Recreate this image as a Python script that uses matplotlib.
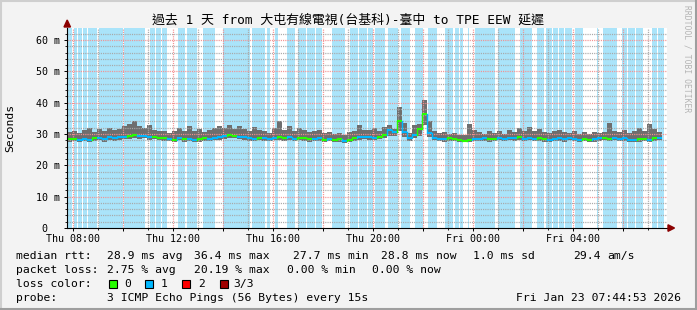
import numpy as np
import matplotlib
matplotlib.use('Agg')
from matplotlib import pyplot as plt
from matplotlib.lines import Line2D
from matplotlib.patches import Rectangle, Polygon

W, H = 697, 310
MONO = ['DejaVu Sans Mono', 'Noto Sans CJK TC']
plt.rcParams['font.family'] = MONO
plt.rcParams['lines.scale_dashes'] = False

# --- data (ms, 12 min bins starting Thu 07:45, hours counted from Thu 00:00) ---
bin_start = 7.75
bin_width = 0.2

median = [28.3, 28.5, 28.2, 28.4, 28.0, 28.6, 28.8, 28.3, 28.9, 28.6,
          29.0, 29.2, 29.4, 29.6, 29.3, 29.5, 28.9, 29.2, 28.8, 28.6,
          28.4, 28.2, 28.7, 28.3, 28.5, 28.1, 28.3, 28.6, 28.4, 28.8,
          28.9, 29.3, 29.6, 29.4, 29.1, 28.9, 28.7, 28.5, 28.8, 28.6,
          28.4, 28.7, 28.9, 28.6, 29.0, 28.5, 28.8, 28.6, 28.3, 28.5,
          28.7, 28.2, 28.4, 28.1, 28.3, 27.9, 28.2, 28.6, 28.9, 29.1,
          28.9, 28.7, 29.1, 29.6, 31.2, 30.5, 34.0, 30.5, 28.6, 29.8,
          31.5, 36.4, 30.2, 28.8, 28.5, 28.3, 28.6, 28.4, 28.0, 27.9,
          28.2, 28.5, 28.4, 28.6, 28.3, 28.5, 28.7, 28.4, 28.8, 28.6,
          28.9, 28.5, 28.7, 28.4, 28.6, 28.3, 28.1, 28.4, 28.6, 28.3,
          28.7, 28.5, 28.2, 28.4, 28.0, 28.3, 28.6, 28.8, 28.5, 28.7,
          28.4, 28.6, 28.2, 28.0, 28.3, 28.5, 28.2, 28.6, 28.8]

ping_max = [30.6, 31.0, 30.3, 31.2, 31.8, 30.6, 31.6, 30.9, 32.0, 31.2,
            31.5, 32.4, 33.2, 34.2, 32.5, 31.8, 33.0, 31.2, 30.8, 31.0,
            30.4, 31.0, 32.0, 30.8, 32.4, 31.0, 31.6, 30.6, 31.2, 32.0,
            32.6, 32.0, 33.0, 31.6, 32.4, 31.5, 30.9, 32.2, 31.2, 30.8,
            30.4, 31.8, 34.2, 31.4, 32.6, 30.9, 32.0, 31.2, 30.5, 31.0,
            31.4, 30.3, 30.7, 30.1, 30.4, 29.8, 30.5, 31.0, 32.8, 31.4,
            31.2, 31.8, 30.8, 32.2, 33.0, 31.6, 38.5, 33.5, 30.4, 33.0,
            33.2, 41.0, 34.0, 31.0, 30.4, 30.6, 30.0, 30.3, 29.8, 29.6,
            33.2, 31.2, 30.6, 30.1, 31.0, 30.3, 30.8, 30.0, 31.2, 30.5,
            32.0, 31.0, 32.2, 30.9, 31.6, 30.5, 30.2, 31.0, 31.4, 30.7,
            30.3, 30.9, 30.1, 30.5, 30.0, 30.7, 30.3, 30.5, 33.4, 30.9,
            30.7, 31.2, 30.3, 30.9, 31.8, 31.0, 33.2, 31.6, 30.5]

ping_min = [27.6, 27.8, 27.5, 27.7, 27.4, 27.9, 28.0, 27.6, 28.1, 27.8,
            28.2, 28.4, 28.5, 28.7, 28.5, 28.6, 28.1, 28.3, 28.0, 27.9,
            27.7, 27.5, 28.0, 27.6, 27.8, 27.4, 27.6, 27.9, 27.7, 28.0,
            28.1, 28.5, 28.7, 28.6, 28.3, 28.1, 27.9, 27.8, 28.0, 27.9,
            27.7, 28.0, 28.1, 27.9, 28.2, 27.8, 28.0, 27.9, 27.6, 27.8,
            27.9, 27.5, 27.7, 27.4, 27.6, 27.2, 27.5, 27.9, 28.1, 28.3,
            28.1, 28.0, 28.3, 28.8, 29.5, 29.4, 31.0, 29.0, 27.8, 28.6,
            29.5, 33.0, 28.9, 28.0, 27.8, 27.6, 27.9, 27.7, 27.4, 27.3,
            27.5, 27.8, 27.7, 27.9, 27.6, 27.8, 28.0, 27.7, 28.1, 27.9,
            28.1, 27.8, 28.0, 27.7, 27.9, 27.6, 27.4, 27.7, 27.9, 27.6,
            28.0, 27.8, 27.5, 27.7, 27.3, 27.6, 27.9, 28.1, 27.8, 28.0,
            27.7, 27.9, 27.5, 27.3, 27.6, 27.8, 27.5, 27.9, 28.1]

# 0 = no loss (green), 1 = one of three lost (blue)
median_loss = [0, 0, 1, 1, 1, 0, 1, 1, 1, 1,
               1, 1, 0, 0, 1, 1, 1, 0, 0, 0,
               1, 0, 1, 0, 1, 1, 0, 0, 1, 1,
               1, 1, 0, 0, 1, 1, 1, 1, 0, 1,
               1, 1, 0, 0, 1, 1, 0, 0, 0, 1,
               1, 0, 1, 0, 0, 1, 0, 0, 1, 1,
               1, 1, 0, 0, 1, 1, 0, 1, 1, 1,
               0, 0, 1, 1, 1, 1, 0, 0, 0, 0,
               0, 1, 1, 1, 0, 0, 1, 1, 1, 1,
               0, 1, 1, 1, 0, 0, 1, 1, 1, 1,
               1, 1, 1, 0, 0, 1, 1, 0, 0, 1,
               1, 1, 1, 1, 0, 0, 1, 0, 1]

# periods with loss (start hour, end hour)
loss_bands = [(7.80, 7.96), (8.04, 8.16), (8.20, 8.36), (8.40, 8.56), (8.60, 8.96),
              (9.04, 10.00), (10.04, 10.88), (11.08, 11.28), (11.32, 11.52), (11.56, 11.76),
              (12.20, 12.48), (12.56, 12.96), (13.20, 13.68), (14.00, 15.08), (15.16, 15.68),
              (15.76, 15.88), (16.08, 16.20), (16.56, 16.88), (17.00, 17.32), (17.36, 17.68),
              (17.72, 17.96), (18.36, 18.88), (19.08, 19.40), (19.44, 19.76), (19.80, 20.00),
              (20.08, 20.48), (20.60, 21.00), (21.12, 21.48), (21.68, 22.00), (22.20, 22.56),
              (22.88, 23.20), (23.28, 23.44), (23.48, 23.60), (23.80, 23.84), (24.08, 24.88),
              (25.00, 25.68), (25.88, 26.36), (26.56, 26.84), (26.92, 27.16), (27.20, 27.40),
              (27.44, 27.64), (27.68, 27.96), (28.08, 28.40), (28.96, 29.00), (29.20, 29.76),
              (29.96, 30.16), (30.20, 30.48), (30.52, 30.80), (31.16, 31.36), (31.40, 31.64)]

tick_hours = [8, 12, 16, 20, 24, 28]
tick_labels = ['Thu 08:00', 'Thu 12:00', 'Thu 16:00', 'Thu 20:00', 'Fri 00:00', 'Fri 04:00']
y_ticks = [0, 10, 20, 30, 40, 50, 60]
y_labels = ['0  ', '10 m', '20 m', '30 m', '40 m', '50 m', '60 m']

loss_colors = ['#26ff00', '#00b8ff', '#ff0000', '#a00000']
band_color = '#aae4fa'


def px(x, y):
    return x / W, 1 - y / H


fig = plt.figure(figsize=(W / 100, H / 100), dpi=100)
fig.patch.set_facecolor('#f3f3f3')
ax = fig.add_axes([67 / W, 1 - 228 / H, 600 / W, 200 / H])
ax.set_facecolor('white')
ax.set_xlim(7.75, 31.75)
ax.set_ylim(0, 63.83)
for s in ax.spines.values():
    s.set_visible(False)

# loss bands
for a, b in loss_bands:
    ax.axvspan(a, b, color=band_color, lw=0, zorder=1)

# smoke
n = len(median)
t = bin_start + bin_width * np.arange(n + 1)
lo = np.array(ping_min + [ping_min[-1]])
hi = np.array(ping_max + [ping_max[-1]])
ax.fill_between(t, lo, hi, step='post', color='#6e6e6e', lw=0, zorder=2)

# grid on top (dotted)
gray = dict(color='#a8a8a8', lw=0.9, ls=(0, (0.8, 0.8)), zorder=3)
red = dict(color='#f49090', lw=0.9, ls=(0, (0.8, 0.8)), zorder=3)
for h in range(8, 32):
    ax.axvline(h, **(red if h % 2 == 0 else gray))
for v in range(2, 64, 2):
    ax.axhline(v, **(red if v % 10 == 0 else gray))

# median line coloured by loss
for i in range(n):
    c = loss_colors[median_loss[i]]
    ax.plot([t[i], t[i + 1]], [median[i], median[i]], color=c, lw=1.5,
            solid_capstyle='butt', zorder=4)
    if i > 0:
        ax.plot([t[i], t[i]], [median[i - 1], median[i]], color=c, lw=1.0, zorder=4)

# axes / ticks
ax.set_xticks([h for h in range(8, 32, 2)])
ax.set_xticklabels([tick_labels[tick_hours.index(h)] if h in tick_hours else '' for h in range(8, 32, 2)])
ax.set_xticks(list(range(8, 32)), minor=True)
ax.set_yticks(y_ticks)
ax.set_yticklabels(y_labels)
ax.set_yticks(list(range(2, 64, 2)), minor=True)
ax.tick_params(axis='both', which='major', length=2.2, width=0.7, color='black',
               labelsize=7.2, pad=2.5, direction='out')
ax.tick_params(axis='both', which='minor', length=1.2, width=0.6, color='black', direction='out')
ax.tick_params(axis='x', pad=2.0)

ax.plot([0, 0], [0, 1.0], transform=ax.transAxes, color='black', lw=0.8, clip_on=False, zorder=5)
ax.plot([0, 1.003], [0, 0], transform=ax.transAxes, color='black', lw=0.8, clip_on=False, zorder=5)
fig.add_artist(Polygon([px(64, 27), px(70.5, 27), px(67.2, 20)], closed=True,
                       transform=fig.transFigure, color='#8b0000'))
fig.add_artist(Polygon([px(668, 224.8), px(668, 231.3), px(674.5, 228)], closed=True,
                       transform=fig.transFigure, color='#8b0000'))

# border
fig.add_artist(Line2D([0, 1], [1 - 1 / H, 1 - 1 / H], color='#cfcfcf', lw=1.5))
fig.add_artist(Line2D([1 / W, 1 / W], [0, 1], color='#cfcfcf', lw=1.5))
fig.add_artist(Line2D([0, 1], [1 / H, 1 / H], color='#9e9e9e', lw=1.5))
fig.add_artist(Line2D([1 - 1 / W, 1 - 1 / W], [0, 1], color='#9e9e9e', lw=1.5))

# titles
fig.text(*px(348, 20), '過去 1 天 from 大屯有線電視(台基科)-臺中 to TPE EEW 延遲',
         ha='center', va='center', fontsize=9.3, family=MONO)
fig.text(*px(10, 128), 'Seconds', rotation=90, ha='center', va='center', fontsize=8.2)
fig.text(*px(687, 5), 'RRDTOOL / TOBI OETIKER', rotation=270, ha='center', va='top',
         fontsize=5.8, color='#b4b4b4')

# legend rows
fs = 8.2
rows = [
    (256, [(16, 'median rtt:'), (107, '28.9 ms avg'), (194, '36.4 ms max'), (293, '27.7 ms min'),
           (381, '28.8 ms now'), (473, '1.0 ms sd'), (573, '29.4'), (607, 'am/s')]),
    (270, [(16, 'packet loss:'), (107, '2.75 % avg'), (194, '20.19 % max'), (287, '0.00 % min'),
           (372, '0.00 % now')]),
    (284, [(16, 'loss color:'), (124, '0'), (161, '1'), (198, '2'), (233, '3/3')]),
    (298, [(16, 'probe:'), (107, '3 ICMP Echo Pings (56 Bytes) every 15s')]),
]
for y, items in rows:
    for x, s in items:
        fig.text(*px(x, y), s, ha='left', va='center', fontsize=fs)
fig.text(*px(681, 298), 'Fri Jan 23 07:44:53 2026', ha='right', va='center', fontsize=fs)

for x, c in zip([109, 145, 182, 220], loss_colors):
    fig.add_artist(Rectangle(px(x, 288), 8 / W, 8 / H, transform=fig.transFigure,
                             facecolor=c, edgecolor='black', lw=0.8))

fig.savefig('out.png', dpi=100, facecolor=fig.get_facecolor())
